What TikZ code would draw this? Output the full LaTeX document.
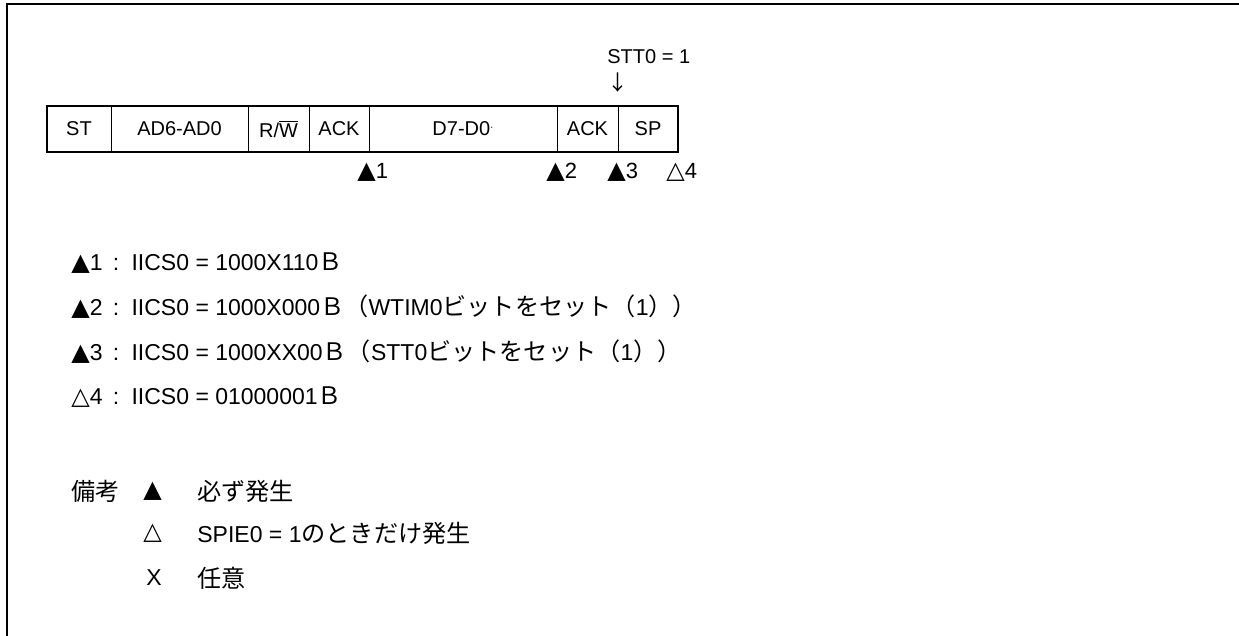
\documentclass[tikz,border=0pt]{standalone}
\usepackage{fontspec}
\usepackage{tikz}
\usetikzlibrary{calc}
\setmainfont{Liberation Sans}
\newfontfamily\jpfont{Noto Sans CJK JP}[Scale=1.05]
\newfontfamily\symfont{DejaVu Sans}
\newcommand{\jp}[1]{{\jpfont #1}}
\newcommand{\blk}{{\symfont\fontsize{12}{12}\selectfont ▲}}
\newcommand{\wht}{{\symfont\fontsize{12}{12}\selectfont △}}
\tikzset{
  frm/.style={line width=0.9pt},
  cell/.style={rectangle,draw,line width=0.5pt,inner sep=0pt,outer sep=0pt,minimum height=23pt,font=\fontsize{10}{12}\selectfont},
  mk/.style={anchor=west,inner sep=0pt,font=\fontsize{11}{13}\selectfont},
  lgd/.style={anchor=west,inner sep=0pt,font=\fontsize{11.5}{14}\selectfont},
}
\begin{document}
\begin{tikzpicture}[x=0.5pt,y=-0.5pt]
\useasboundingbox (0,0) rectangle (1239,636);
\draw[frm] (7,636) -- (7,4) -- (1239,4);
% frame
\node[cell,minimum width=32pt]   at (79,129)(cST){ST};
\node[cell,minimum width=68.5pt] at (179.5,129)(cAD){AD6-AD0};
\node[cell,minimum width=30.5pt] at (278.5,129)(cRW){R/$\overline{\hbox{W}}$};
\node[cell,minimum width=30pt]   at (339,129)(cAK1){ACK};
\node[cell,minimum width=94pt]   at (463,129)(cD){D7-D0\raisebox{0.5ex}{\fontsize{5}{5}\selectfont·}};
\node[cell,minimum width=30.5pt] at (587.5,129)(cAK2){ACK};
\node[cell,minimum width=30pt]   at (648,129)(cSP){SP};
\draw[line width=0.8pt](cST.north west) rectangle (cSP.south east);
\draw[line width=1.4pt](cST.south west) -- (cSP.south east) -- (cSP.north east);
% stop condition
\node[mk,font=\fontsize{10}{12}\selectfont] at (607,57)(stt){STT0 = 1};
\node[inner sep=0pt,font=\fontsize{10}{12}\selectfont] at (cAK2.east |- 0,83)(dn){\jp{↓}};
% interrupts
\node[mk] at (357,172)(m1){\blk1};
\node[mk] at (546,172)(m2){\blk2};
\node[mk] at (607,172)(m3){\blk3};
\node[mk] at (666,172)(m4){\wht4};
% list
\node[lgd] at (71,263)(l1){\blk1 \,:\, IICS0 = 1000X110\jp{Ｂ}};
\node[lgd] at (71,307)(l2){\blk2 \,:\, IICS0 = 1000X000\jp{Ｂ（}WTIM0\jp{ビットをセット（}1\jp{））}};
\node[lgd] at (71,352)(l3){\blk3 \,:\, IICS0 = 1000XX00\jp{Ｂ（}STT0\jp{ビットをセット（}1\jp{））}};
\node[lgd] at (71,397)(l4){\wht4 \,:\, IICS0 = 01000001\jp{Ｂ}};
% remarks
\node[lgd] at (71,491)(rem){\jp{備考}};
\node[lgd] at (143,491)(r1s){\blk};
\node[lgd] at (197,491)(r1t){\jp{必ず発生}};
\node[lgd] at (143,533)(r2s){\wht};
\node[lgd] at (197,533)(r2t){SPIE0 = 1\jp{のときだけ発生}};
\node[lgd] at (146,578)(r3s){X};
\node[lgd] at (197,578)(r3t){\jp{任意}};
\end{tikzpicture}
\end{document}
